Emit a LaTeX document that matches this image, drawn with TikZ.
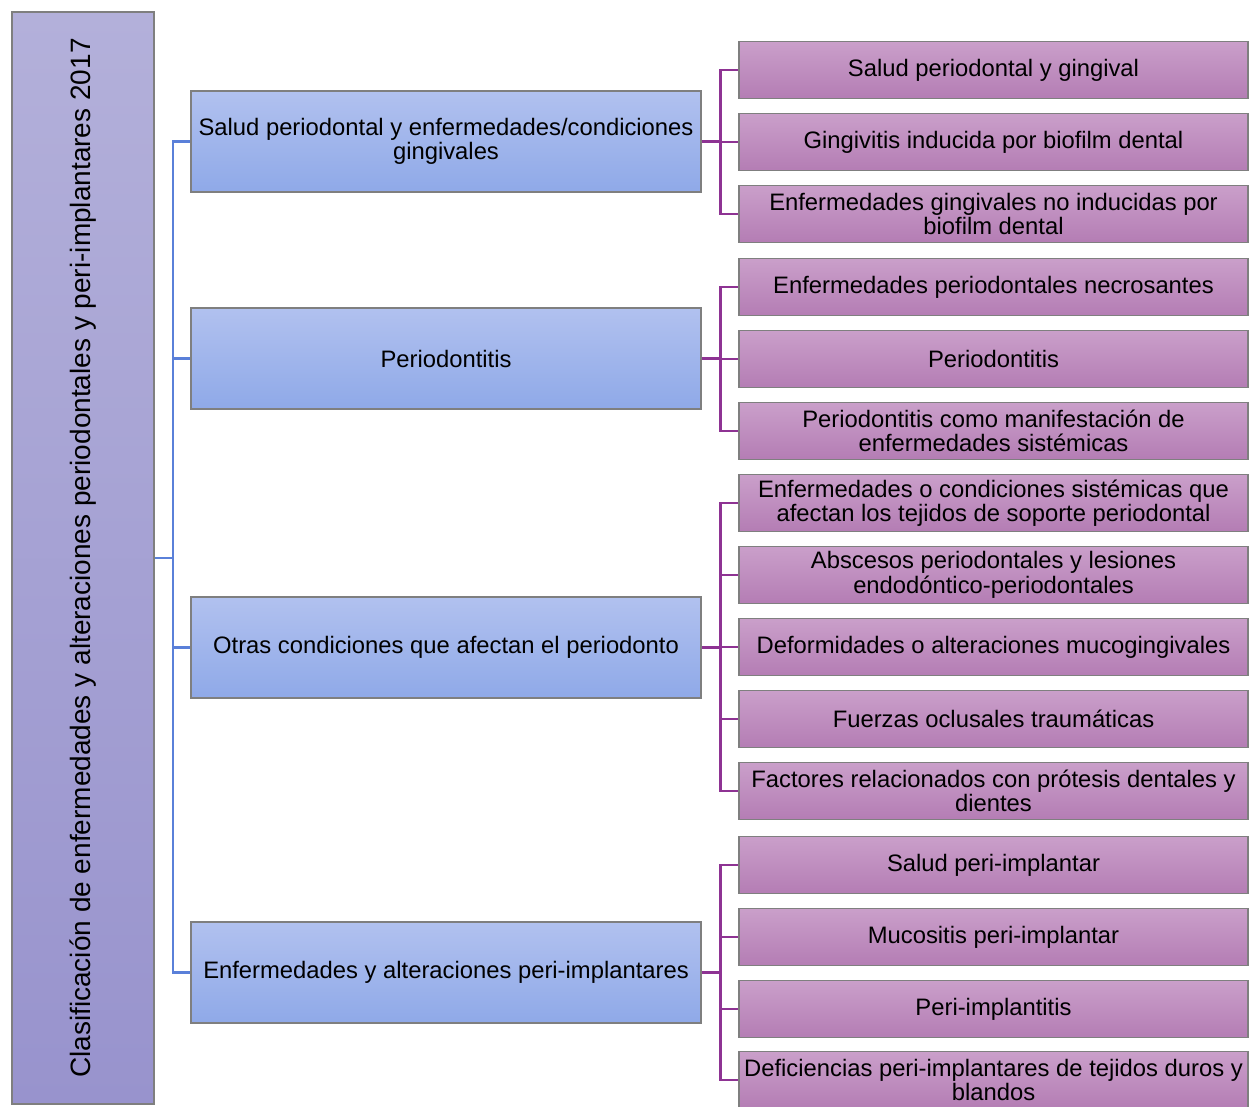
\documentclass[tikz,border=0pt]{standalone}
\usepackage{fontspec}
\setmainfont{Liberation Sans}
\usetikzlibrary{calc}
\definecolor{roottop}{HTML}{B3B0DA}
\definecolor{rootbot}{HTML}{9893CD}
\definecolor{bluetop}{HTML}{B1C1EF}
\definecolor{bluebot}{HTML}{8FA9E8}
\definecolor{purptop}{HTML}{CA9FCA}
\definecolor{purpbot}{HTML}{B47DB4}
\definecolor{boxedge}{HTML}{7F7F7F}
\definecolor{blueline}{HTML}{5A80D9}
\definecolor{purpline}{HTML}{8E3393}
\tikzset{
  rootbox/.style={draw=boxedge, line width=1.3pt, top color=roottop, bottom color=rootbot,
    minimum width=142pt, minimum height=1092pt, inner sep=0pt},
  lonebox/.style={draw=boxedge, line width=1.3pt, top color=bluetop, bottom color=bluebot,
    minimum width=510pt, minimum height=101pt, inner sep=1pt, align=center,
    font=\fontsize{23.8}{24.5}\selectfont},
  ltwobox/.style={draw=boxedge, line width=1.3pt, top color=purptop, bottom color=purpbot,
    minimum width=509pt, minimum height=57pt, inner sep=1pt, align=center,
    font=\fontsize{23.8}{24.5}\selectfont},
  bconn/.style={draw=blueline, line width=2.6pt},
  pconn/.style={draw=purpline, line width=2.6pt},
}
\begin{document}
\begin{tikzpicture}[x=1pt,y=-1pt]
\useasboundingbox (0,0) rectangle (1249,1107);
\node[rootbox] (root) at (83,558) {};
\node[rotate=90, font=\fontsize{28}{32}\selectfont] (roottext) at (83,558) {Clasificación de enfermedades y alteraciones periodontales y peri-implantares 2017};

\node[lonebox] (a) at (446,141.5) {Salud periodontal y enfermedades/condiciones\\gingivales};
\node[lonebox] (b) at (446,358.5) {Periodontitis};
\node[lonebox] (c) at (446,647.5) {Otras condiciones que afectan el periodonto};
\node[lonebox] (d) at (446,972.5) {Enfermedades y alteraciones peri-implantares};

\node[ltwobox] (a1) at (993.5,70) {Salud periodontal y gingival};
\node[ltwobox] (a2) at (993.5,142) {Gingivitis inducida por biofilm dental};
\node[ltwobox] (a3) at (993.5,214) {Enfermedades gingivales no inducidas por\\biofilm dental};
\node[ltwobox] (b1) at (993.5,287) {Enfermedades periodontales necrosantes};
\node[ltwobox] (b2) at (993.5,359) {Periodontitis};
\node[ltwobox] (b3) at (993.5,431) {Periodontitis como manifestación de\\enfermedades sistémicas};
\node[ltwobox] (c1) at (993.5,503) {Enfermedades o condiciones sistémicas que\\afectan los tejidos de soporte periodontal};
\node[ltwobox] (c2) at (993.5,575) {Abscesos periodontales y lesiones\\endodóntico-periodontales};
\node[ltwobox] (c3) at (993.5,647) {Deformidades o alteraciones mucogingivales};
\node[ltwobox] (c4) at (993.5,719) {Fuerzas oclusales traumáticas};
\node[ltwobox] (c5) at (993.5,791) {Factores relacionados con prótesis dentales y\\dientes};
\node[ltwobox] (d1) at (993.5,865) {Salud peri-implantar};
\node[ltwobox] (d2) at (993.5,937) {Mucositis peri-implantar};
\node[ltwobox] (d3) at (993.5,1009) {Peri-implantitis};
\node[ltwobox] (d4) at (993.5,1080) {Deficiencias peri-implantares de tejidos duros y\\blandos};

% blue connectors
\coordinate (bj) at (173,558);
\draw[bconn] (root.east) -- (bj);
\draw[bconn] (bj) |- (a.west);
\draw[bconn] (bj) |- (b.west);
\draw[bconn] (bj) |- (c.west);
\draw[bconn] (bj) |- (d.west);

% purple connectors
\foreach \p/\kids in {a/{a1,a2,a3}, b/{b1,b2,b3}, c/{c1,c2,c3,c4,c5}, d/{d1,d2,d3,d4}} {
  \coordinate (\p j) at ($(\p.east)+(19,0)$);
  \draw[pconn] (\p.east) -- (\p j);
  \foreach \k in \kids { \draw[pconn] (\p j) |- (\k.west); }
}
\end{tikzpicture}
\end{document}
